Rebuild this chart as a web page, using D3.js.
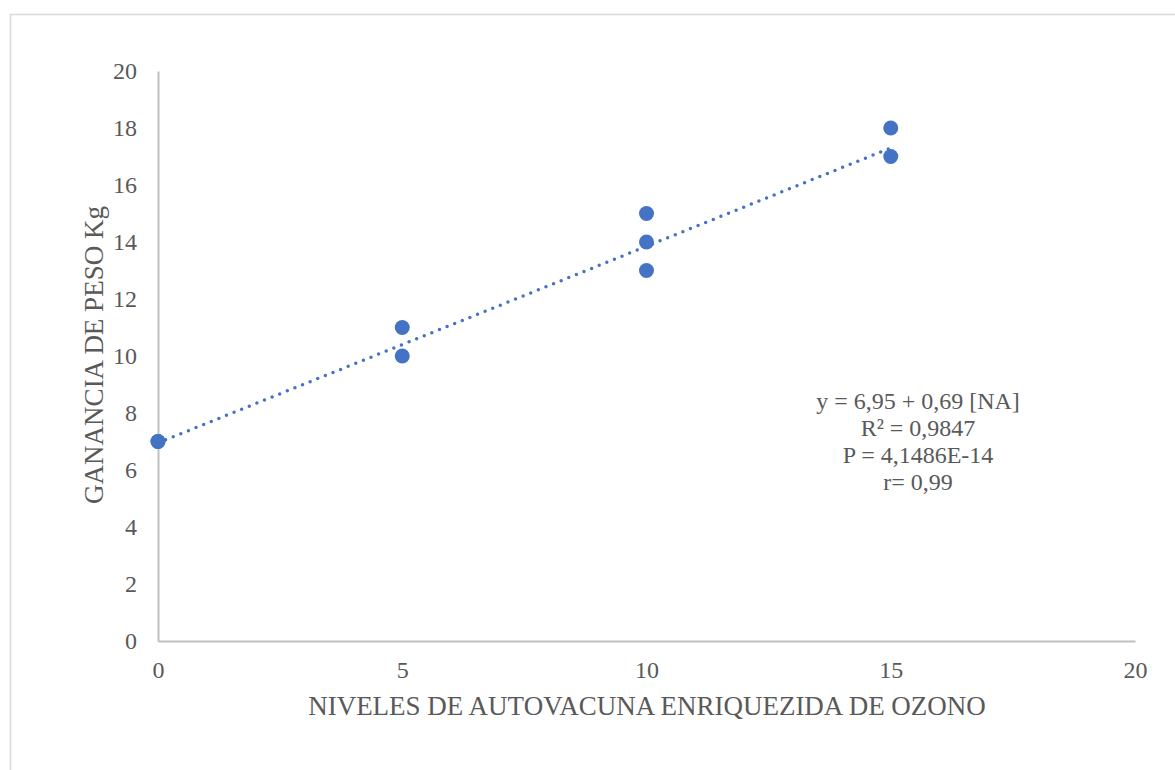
<!DOCTYPE html>
<html>
<head>
<meta charset="utf-8">
<script src="https://cdn.jsdelivr.net/npm/d3@7"></script>
<style>
  html, body { margin: 0; padding: 0; background: #fff; }
  svg { display: block; }
</style>
</head>
<body>
<svg id="chart" width="1175" height="770"></svg>
<script>
// Autovaccine level (x) and weight gain in kg (y) for each animal
const niveles = [0, 0, 5, 5, 10, 10, 10, 15, 15];
const ganancia = [7, 7, 11, 10, 15, 14, 13, 18, 17];

// Fitted regression: y = a + b·x
const intercepto = 6.95;
const pendiente = 0.69;

const xTicks = [0, 5, 10, 15, 20];
const yTicks = [0, 2, 4, 6, 8, 10, 12, 14, 16, 18, 20];

const anotacion = [
  "y = 6,95 + 0,69 [NA]",
  "R² = 0,9847",
  "P = 4,1486E-14",
  "r= 0,99"
];

const svg = d3.select("#chart");
const font = "'Liberation Serif', 'Times New Roman', serif";
const textColor = "#595959";
const axisColor = "#bfbfbf";
const markColor = "#4472c4";

// outer chart frame
svg.append("rect")
  .attr("x", 10.5).attr("y", 14.5)
  .attr("width", 1200).attr("height", 800)
  .attr("fill", "#fff")
  .attr("stroke", "#d9d9d9")
  .attr("stroke-width", 1.5);

const x = d3.scaleLinear().domain([0, 20]).range([158, 1135]);
const y = d3.scaleLinear().domain([0, 20]).range([641, 71]);

// axes without tick marks
const xAxis = svg.append("g")
  .attr("transform", `translate(0,${y(0)})`)
  .call(d3.axisBottom(x).tickValues(xTicks).tickSize(0).tickPadding(20));
const yAxis = svg.append("g")
  .attr("transform", `translate(${x(0)},0)`)
  .call(d3.axisLeft(y).tickValues(yTicks).tickSize(0).tickPadding(21));

[xAxis, yAxis].forEach(g => {
  g.attr("font-family", null).attr("font-size", null);
  g.select(".domain").attr("stroke", axisColor).attr("stroke-width", 2);
  g.selectAll("text")
    .attr("fill", textColor)
    .style("font-family", font)
    .style("font-size", "24px");
});

// trendline over the observed range
const trend = [d3.min(niveles), d3.max(niveles)].map(v => [v, intercepto + pendiente * v]);
svg.append("path")
  .datum(trend)
  .attr("d", d3.line().x(d => x(d[0])).y(d => y(d[1])))
  .attr("fill", "none")
  .attr("stroke", markColor)
  .attr("stroke-width", 3.5)
  .attr("stroke-linecap", "round")
  .attr("stroke-dasharray", "0 8.2");

// observations
svg.append("g")
  .selectAll("circle")
  .data(niveles.map((v, i) => [v, ganancia[i]]))
  .join("circle")
  .attr("cx", d => x(d[0]))
  .attr("cy", d => y(d[1]))
  .attr("r", 7.5)
  .attr("fill", markColor);

// regression statistics
svg.append("text")
  .attr("x", 918).attr("y", 409)
  .attr("text-anchor", "middle")
  .attr("fill", textColor)
  .style("font-family", font)
  .style("font-size", "24px")
  .selectAll("tspan")
  .data(anotacion)
  .join("tspan")
  .attr("x", 918)
  .attr("dy", (d, i) => i === 0 ? 0 : 27)
  .text(d => d);

// axis titles
svg.append("text")
  .attr("x", 647).attr("y", 715)
  .attr("text-anchor", "middle")
  .attr("fill", textColor)
  .style("font-family", font)
  .style("font-size", "27px")
  .text("NIVELES DE AUTOVACUNA ENRIQUEZIDA DE OZONO");

svg.append("text")
  .attr("transform", "translate(103,355) rotate(-90)")
  .attr("text-anchor", "middle")
  .attr("fill", textColor)
  .style("font-family", font)
  .style("font-size", "27px")
  .text("GANANCIA DE PESO Kg");
</script>
</body>
</html>
